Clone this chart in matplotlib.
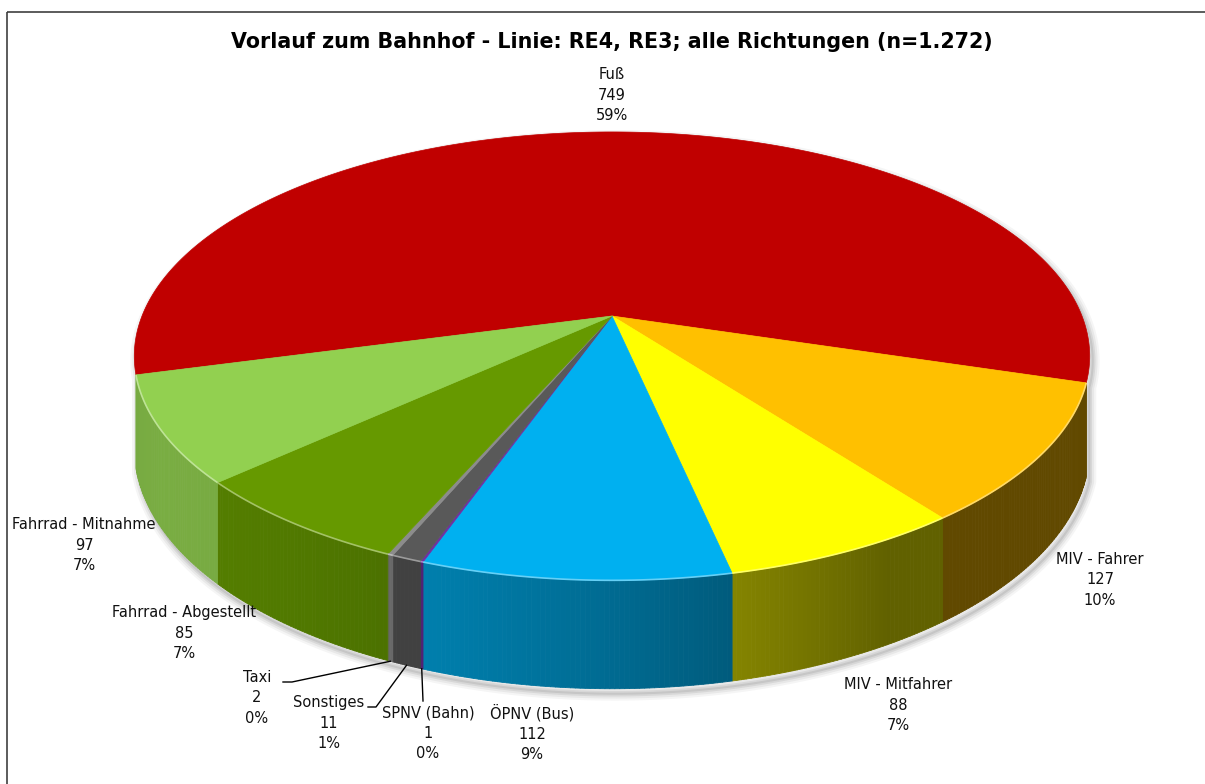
# Vorlauf zum Bahnhof - 3D Kreisdiagramm
import numpy as np
import matplotlib.pyplot as plt
import matplotlib.colors as mcolors
from matplotlib.patches import Polygon, Rectangle
from matplotlib.collections import PolyCollection

# Daten
kategorien = ["Fuß", "MIV - Fahrer", "MIV - Mitfahrer", "ÖPNV (Bus)", "SPNV (Bahn)",
              "Sonstiges", "Taxi", "Fahrrad - Abgestellt", "Fahrrad - Mitnahme"]
werte = [749, 127, 88, 112, 1, 11, 2, 85, 97]
prozente = [59, 10, 7, 9, 0, 1, 0, 7, 7]
farben = ["#C00000", "#FFC000", "#FFFF00", "#00B0F0", "#7030A0",
          "#595959", "#8C8C8C", "#669900", "#92D050"]
titel = "Vorlauf zum Bahnhof - Linie: RE4, RE3; alle Richtungen (n=1.272)"

# Layout (Pixel)
label_pos = [(612, 95), (1100, 580), (898, 705), (532, 733), (428, 733),
             (329, 723), (257, 698), (184, 633), (84, 545)]
leader_end = {4: [(423, 701)], 5: [(376, 707), (368, 707)], 6: [(292, 682), (283, 682)]}

cx, cy = 612, 316      # Mittelpunkt
rx, ry = 470, 217      # Radien der Ellipse
k = 0.179              # Perspektive
h = 89                 # Dicke
start = 195            # Startwinkel

def proj(t, drop=0.0):
    t = np.radians(np.asarray(t, dtype=float))
    u = np.cos(t)
    v = np.sin(t)
    s = 1 / (1 + k * v)
    return cx + rx * u * s, cy - ry * v * s + drop * s

def shade(t):
    d = np.cos(np.radians(t + 150))
    return 0.38 + 0.45 * max(0.0, d)

total = sum(werte)
grenzen = []
a = start
for w in werte:
    b = a - w * 360.0 / total
    grenzen.append((a, b))
    a = b

fig = plt.figure(figsize=(12.05, 7.84), dpi=100)
ax = fig.add_axes([0, 0, 1, 1])
ax.set_xlim(0, 1205)
ax.set_ylim(784, 0)
ax.axis('off')

# Rahmen
ax.add_patch(Rectangle((7, 12), 1300, 900, fill=False, edgecolor="#3f3f3f", lw=1.2))

# Schatten
lo = grenzen[0][1]
hi = start - 360
ts_front = np.linspace(lo, hi, 200)
ts_back = np.linspace(start, lo, 300)
bx, by = proj(ts_front, h)
tx, ty = proj(ts_back)
sil = np.column_stack([np.concatenate([tx, bx]), np.concatenate([ty, by])])
for lw, al in [(10, 0.04), (7, 0.05), (4, 0.07), (1.5, 0.08)]:
    ax.add_patch(Polygon(sil + [3, 5], closed=True, facecolor="none",
                         edgecolor="black", lw=lw, alpha=al, joinstyle="round"))

# Seitenwände
polys, cols = [], []
for i in range(1, len(werte)):
    a0, a1 = grenzen[i]
    n = max(2, int(abs(a0 - a1) * 2) + 2)
    ts = np.linspace(a0, a1, n)
    base = np.array(mcolors.to_rgb(farben[i]))
    for j in range(n - 1):
        x0, y0 = proj(ts[j])
        x1, y1 = proj(ts[j + 1])
        x2, y2 = proj(ts[j + 1], h)
        x3, y3 = proj(ts[j], h)
        polys.append([(x0, y0), (x1, y1), (x2, y2), (x3, y3)])
        cols.append(tuple(base * shade(0.5 * (ts[j] + ts[j + 1]))))
ax.add_collection(PolyCollection(polys, facecolors=cols, edgecolors=cols, linewidths=0.6))

# Deckfläche
for i in range(len(werte)):
    a0, a1 = grenzen[i]
    n = max(3, int(abs(a0 - a1) * 2) + 2)
    ts = np.linspace(a0, a1, n)
    x, y = proj(ts)
    pts = np.column_stack([np.concatenate([[cx], x]), np.concatenate([[cy], y])])
    ax.add_patch(Polygon(pts, closed=True, facecolor=farben[i], edgecolor=farben[i], lw=0.5))
    if i > 0:
        hell = tuple(np.array(mcolors.to_rgb(farben[i])) * 0.6 + 0.4)
        ax.plot(x, y, color=hell, lw=1.2, solid_capstyle="butt")

# Titel
ax.text(612, 42, titel, ha="center", va="center", fontsize=14.9, fontweight="bold")

# Beschriftungen
for i in range(len(werte)):
    lx, ly = label_pos[i]
    ax.text(lx, ly, f"{kategorien[i]}\n{werte[i]}\n{prozente[i]}%", ha="center",
            va="center", fontsize=10.5, linespacing=1.45, color="#111111")
    if i in leader_end:
        a0, a1 = grenzen[i]
        sx, sy = proj(0.5 * (a0 + a1), h)
        pts = [(float(sx), float(sy))] + leader_end[i]
        ax.plot([p[0] for p in pts], [p[1] for p in pts], color="black", lw=1)

fig.savefig("out.png", dpi=100)
